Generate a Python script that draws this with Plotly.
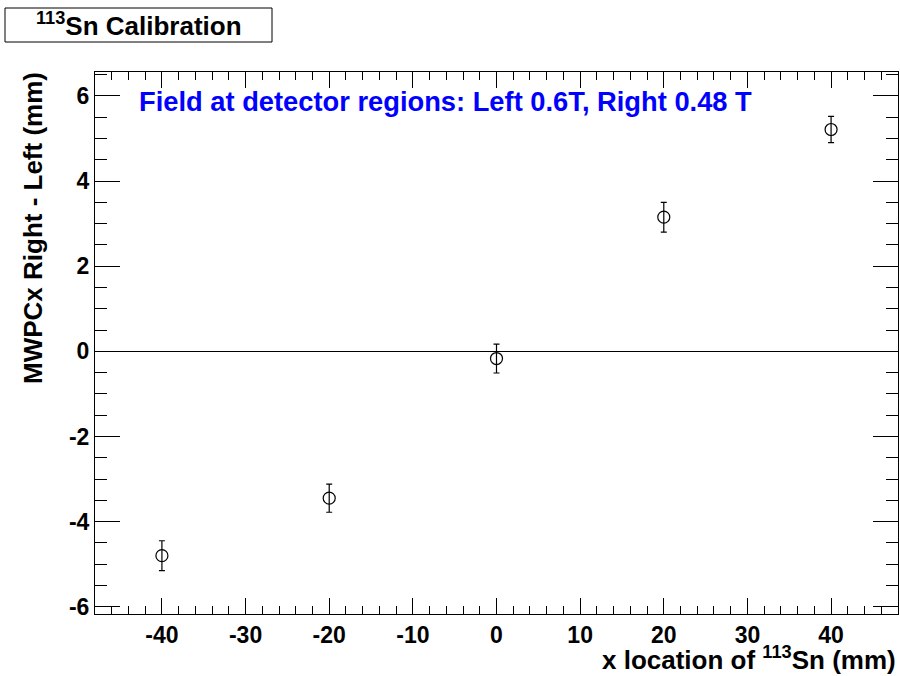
import plotly.graph_objects as go

x_pos = [-40, -20, 0, 20, 40]
y_diff = [-4.80, -3.45, -0.17, 3.15, 5.21]
y_err = [0.35, 0.33, 0.34, 0.35, 0.31]

x_ticks = [-40, -30, -20, -10, 0, 10, 20, 30, 40]
x_ticktext = ["-40", "-30", "-20", "-10", "0", "10", "20", "30", "40"]
y_ticks = [-6, -4, -2, 0, 2, 4, 6]
y_ticktext = ["-6", "-4", "-2", "0", "2", "4", "6"]

FONT = "Liberation Sans, Arial, sans-serif"

fig = go.Figure()
fig.add_trace(go.Scatter(
    x=x_pos, y=y_diff, mode="markers",
    marker=dict(symbol="circle-open", size=12, color="black", line=dict(width=1.2, color="black")),
    error_y=dict(type="data", array=y_err, visible=True, color="black", thickness=1.2, width=3),
    showlegend=False,
))

fig.update_layout(
    width=900, height=676,
    margin=dict(l=95, r=2, t=72, b=62),
    paper_bgcolor="white", plot_bgcolor="white",
    font=dict(family=FONT, size=23, color="black"),
    xaxis=dict(
        range=[-48, 48], tickvals=x_ticks, ticktext=x_ticktext, ticks="inside", ticklen=16, tickwidth=1,
        tickcolor="black", showline=True, linecolor="black", linewidth=1, mirror="allticks",
        showgrid=False, zeroline=False,
        tickfont=dict(family=FONT, size=23, color="black", weight="bold"),
        minor=dict(dtick=2, ticks="inside", ticklen=8, tickcolor="black", tickwidth=1, showgrid=False),
    ),
    yaxis=dict(
        range=[-6.17, 6.56], tickvals=y_ticks, ticktext=y_ticktext, ticks="inside", ticklen=25, tickwidth=1,
        tickcolor="black", showline=True, linecolor="black", linewidth=1, mirror="allticks",
        showgrid=False, zeroline=True, zerolinecolor="black", zerolinewidth=1.2,
        tickfont=dict(family=FONT, size=23, color="black", weight="bold"),
        minor=dict(dtick=0.5, ticks="inside", ticklen=12, tickcolor="black", tickwidth=1, showgrid=False),
    ),
)

fig.add_annotation(
    xref="paper", yref="paper", x=1, y=0, xanchor="right", yanchor="middle",
    yshift=-44, xshift=0,
    text="<b>x location of <sup>113</sup>Sn (mm)</b>", showarrow=False,
    font=dict(family=FONT, size=26, color="black"),
)
fig.add_annotation(
    xref="paper", yref="paper", x=0, y=1, xanchor="center", yanchor="top",
    xshift=-62, yshift=2, textangle=-90,
    text="<b>MWPCx Right - Left (mm)</b>", showarrow=False,
    font=dict(family=FONT, size=26, color="black"),
)
fig.add_annotation(
    xref="paper", yref="paper", x=(137-95)/803, y=1 - (101-72)/542, xanchor="left", yanchor="middle",
    text="<b>Field at detector regions: Left 0.6T, Right 0.48 T</b>", showarrow=False,
    font=dict(family=FONT, size=27.3, color="#0000ff"),
)
fig.add_shape(type="rect", xref="paper", yref="paper",
              x0=-(95-5)/803, x1=(272-95)/803, y0=1 + (72-42)/542, y1=1 + (72-8)/542,
              line=dict(color="black", width=1), fillcolor="white")
fig.add_annotation(
    xref="paper", yref="paper", x=(138.5-95)/803, y=1 + (72-25)/542, xanchor="center", yanchor="middle",
    text="<b><sup>113</sup>Sn Calibration</b>", showarrow=False,
    font=dict(family=FONT, size=26, color="black"),
)

fig.write_html("out.html", config={"displayModeBar": False},
               post_script="document.body.style.margin='0px';document.body.style.overflow='hidden';")
